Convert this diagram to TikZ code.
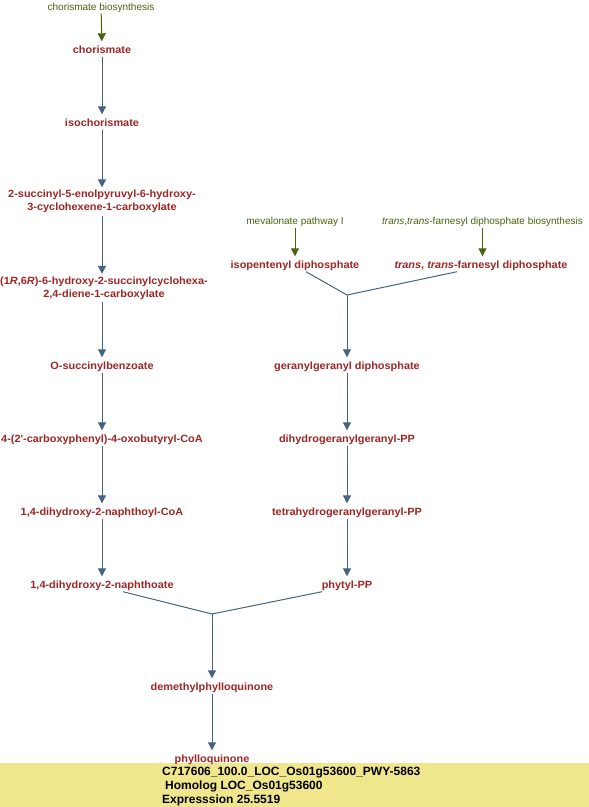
\documentclass[tikz,border=0pt]{standalone}
\usepackage{fontspec}
\setmainfont{Liberation Sans}
\newfontfamily\labfont{Liberation Sans}[FakeStretch=1.04]
\usetikzlibrary{arrows.meta}
\definecolor{cpdred}{RGB}{158,38,38}
\definecolor{pwgreen}{RGB}{74,100,16}
\definecolor{arrblue}{RGB}{70,100,130}
\definecolor{barfill}{RGB}{240,230,140}
\tikzset{
  cpd/.style={font=\labfont\fontsize{10.5pt}{13pt}\selectfont\bfseries, text=cpdred, inner xsep=0pt, inner ysep=2.5pt, text height=9pt, text depth=1pt},
  cpdtwo/.style={font=\labfont\fontsize{10.5pt}{13pt}\selectfont\bfseries, text=cpdred, inner xsep=0pt, inner ysep=2.5pt, align=center},
  pway/.style={font=\fontsize{10pt}{12pt}\selectfont, text=pwgreen, inner xsep=0pt, inner ysep=2.5pt, text height=9pt, text depth=1pt},
  arr/.style={draw=arrblue, line width=1pt, -{Triangle[width=8pt,length=8pt]}, fill=arrblue},
  garr/.style={draw=pwgreen, line width=1pt, -{Triangle[width=8pt,length=8pt]}, fill=pwgreen},
  seg/.style={draw=arrblue, line width=1pt},
  bartext/.style={font=\fontsize{12pt}{14pt}\selectfont\bfseries, text=black, inner sep=0pt, anchor=base west},
}
\begin{document}
\begin{tikzpicture}[x=1pt,y=-1pt]
\useasboundingbox (0,0) rectangle (589,807);
\fill[white] (0,0) rectangle (589,807);
\fill[barfill] (0,763) rectangle (589,807);

% left column
\node[pway] (cb) at (101,6) {chorismate biosynthesis};
\node[cpd] (chor) at (102,49) {chorismate};
\node[cpd] (iso) at (102,122) {isochorismate};
\node[cpdtwo] (sephc) at (102,201.5) {2-succinyl-5-enolpyruvyl-6-hydroxy-\\3-cyclohexene-1-carboxylate};
\node[cpdtwo] (shchc) at (104,288) {(1\textit{R},6\textit{R})-6-hydroxy-2-succinylcyclohexa-\\2,4-diene-1-carboxylate};
\node[cpd] (osb) at (102,365) {O-succinylbenzoate};
\node[cpd] (osbcoa) at (102,438) {4-(2'-carboxyphenyl)-4-oxobutyryl-CoA};
\node[cpd] (dhnacoa) at (102,511) {1,4-dihydroxy-2-naphthoyl-CoA};
\node[cpd] (dhna) at (102,584) {1,4-dihydroxy-2-naphthoate};

% right column
\node[pway] (mva) at (295,220) {mevalonate pathway I};
\node[pway] (fppb) at (482.5,220) {\textit{trans},\textit{trans}-farnesyl diphosphate biosynthesis};
\node[cpd] (ipp) at (295,264) {isopentenyl diphosphate};
\node[cpd] (fpp) at (481,264) {\textit{trans}, \textit{trans}-farnesyl diphosphate};
\node[cpd] (ggpp) at (347,365) {geranylgeranyl diphosphate};
\node[cpd] (dhgg) at (347,438) {dihydrogeranylgeranyl-PP};
\node[cpd] (thgg) at (347,511) {tetrahydrogeranylgeranyl-PP};
\node[cpd] (phyt) at (347,584) {phytyl-PP};

% bottom
\node[cpd] (dmpq) at (212,686) {demethylphylloquinone};
\node[cpd] (pq) at (212,758) {phylloquinone};

\coordinate (j1) at (347,295);
\coordinate (j2) at (212,614);

% arrows left
\draw[garr] (cb) -- (chor);
\draw[arr] (chor) -- (iso);
\draw[arr] (iso) -- (sephc);
\draw[arr] (sephc) -- (sephc |- shchc.north);
\draw[arr] (shchc.south -| osb) -- (osb);
\draw[arr] (osb) -- (osbcoa);
\draw[arr] (osbcoa) -- (dhnacoa);
\draw[arr] (dhnacoa) -- (dhna);

% arrows right
\draw[garr] (mva.south -| ipp) -- (ipp);
\draw[garr] (fppb.south -| fppb) -- (fppb.south |- fpp.north);
\draw[seg] ([xshift=11pt]ipp.south) -- (j1);
\draw[seg] ([xshift=-24pt]fpp.south) -- (j1);
\draw[arr] (j1) -- (ggpp);
\draw[arr] (ggpp) -- (dhgg);
\draw[arr] (dhgg) -- (thgg);
\draw[arr] (thgg) -- (phyt);

% merge
\draw[seg] ([xshift=21pt]dhna.south) -- (j2);
\draw[seg] ([xshift=-25pt]phyt.south) -- (j2);
\draw[arr] (j2) -- (dmpq);
\draw[arr] (dmpq) -- (pq);

\node[bartext] (bar1) at (162,775) {C717606\_100.0\_LOC\_Os01g53600\_PWY-5863};
\node[bartext] (bar2) at (162,789) {\hspace{3pt}Homolog LOC\_Os01g53600};
\node[bartext] (bar3) at (162,803) {Expresssion 25.5519};
\end{tikzpicture}
\end{document}
